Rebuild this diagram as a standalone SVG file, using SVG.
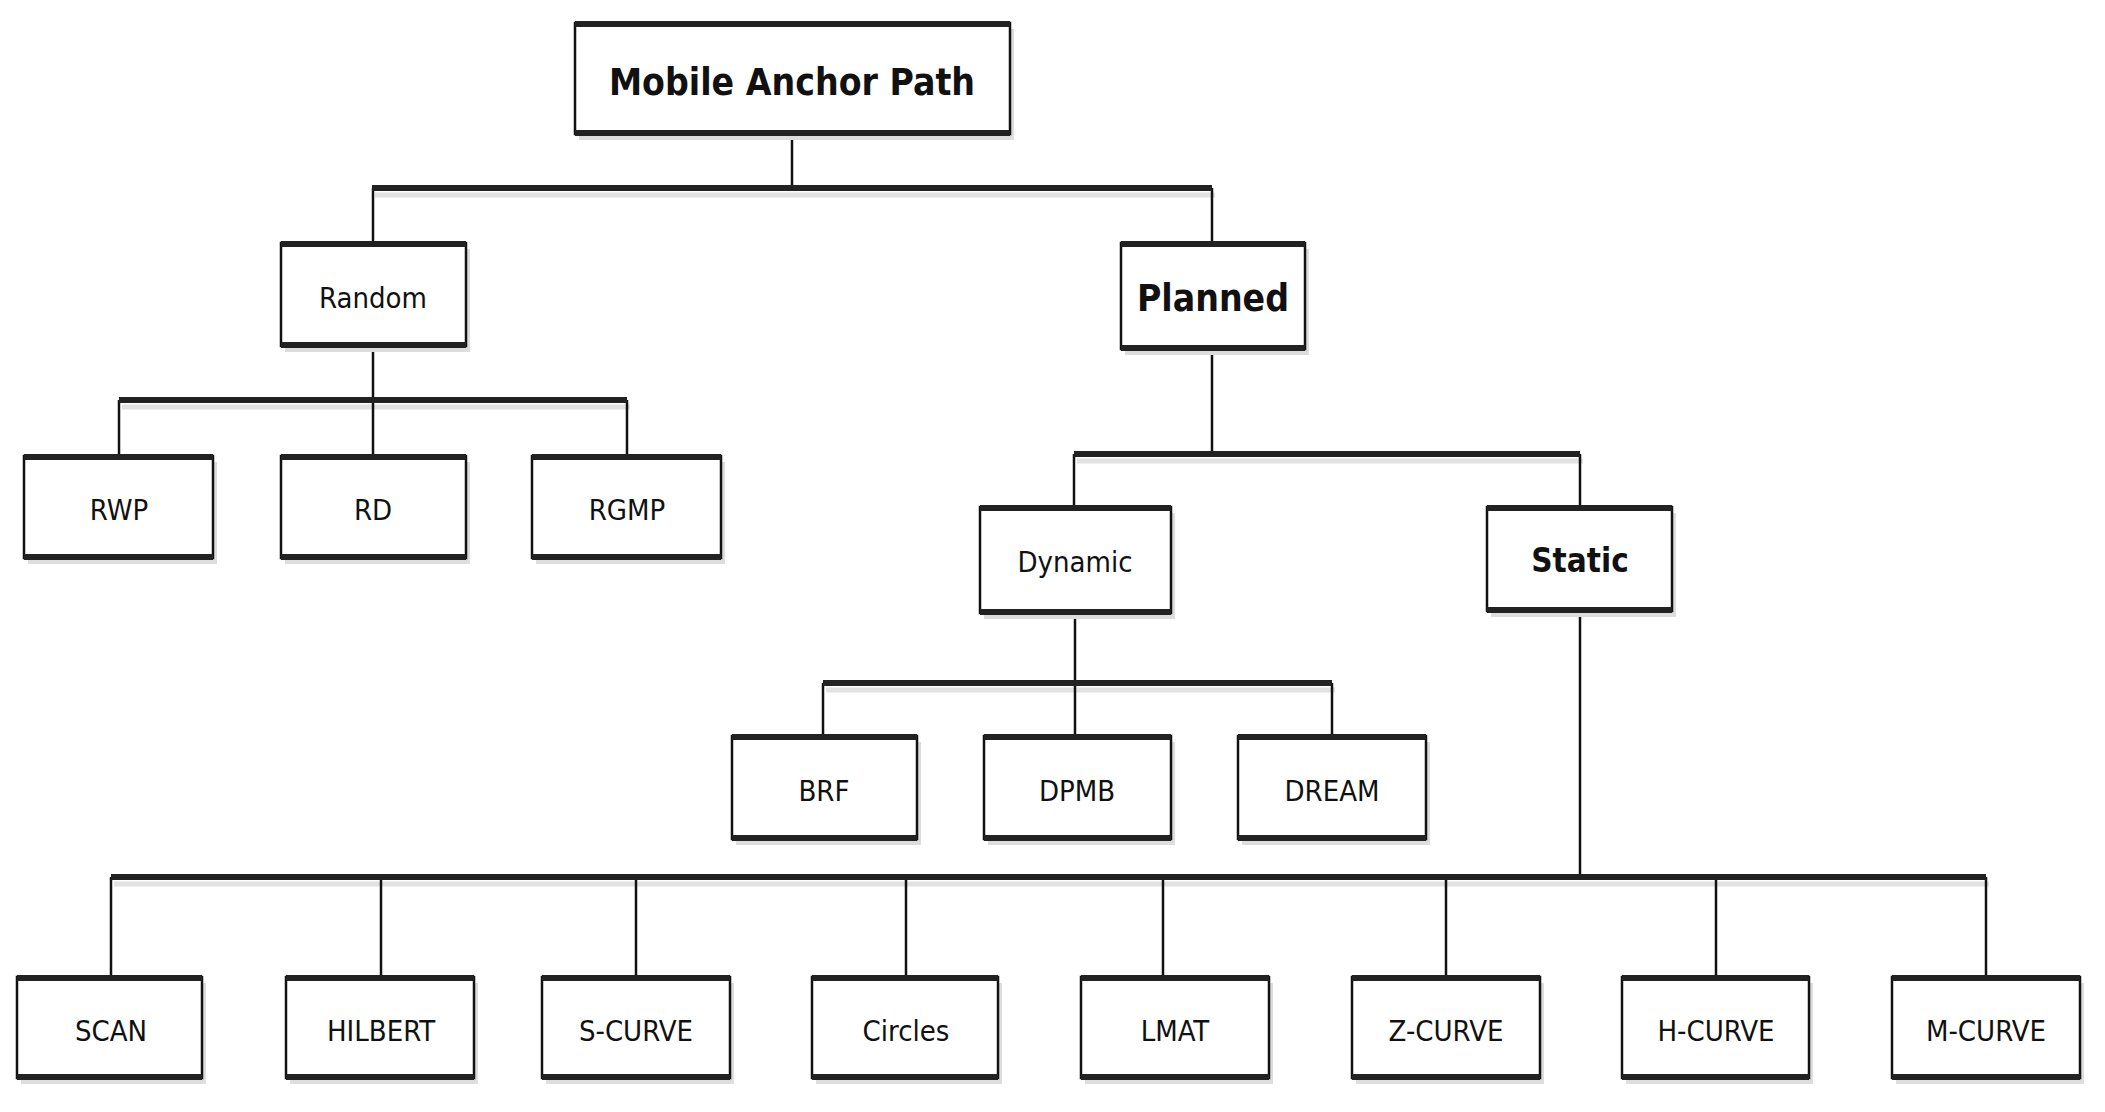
<svg xmlns="http://www.w3.org/2000/svg" width="2105" height="1112" viewBox="0 0 2105 1112">
<style>
.b{fill:#fff;stroke:#111;stroke-width:2.5}
.s{fill:#ddd}
.tb{stroke:#222;stroke-width:6}
.t{font-family:"DejaVu Sans Condensed","DejaVu Sans",sans-serif;font-size:29px;fill:#111;text-anchor:middle}
.bd{font-weight:bold;font-size:37px}
.c{fill:none;stroke:#111;stroke-width:2.5}
.bar{fill:none;stroke:#222;stroke-width:6}
.bs{fill:none;stroke:#e2e2e2;stroke-width:5}
</style>
<rect width="2105" height="1112" fill="#fff"/>
<g id="connectors">
<path class="bs" d="M375 195H1215M122 407H630M1077 461H1583M826 690H1335M114 884H1989"/>
<path class="c" d="M792 134V188M373 188V243M1212 188V243M373 346V400M119 400V456M373 400V456M627 400V456M1212 349V454M1074 454V507M1580 454V507M1075 613V683M823 683V736M1075 683V736M1332 683V736M1580 611V877M111 877V977M381 877V977M636 877V977M906 877V977M1163 877V977M1446 877V977M1716 877V977M1986 877V977"/>
<path class="bar" d="M372 188H1212M119 400H627M1074 454H1580M823 683H1332M111 877H1986"/>
</g>
<defs>
<g id="box185"><rect class="s" x="4" y="6" width="185" height="103"/></g>
</defs>
<g id="n-root"><rect class="s" x="579" y="29" width="435" height="111"/><rect class="b" x="575" y="23" width="435" height="111"/><path class="tb" d="M575 24H1010M575 133H1010"/><text class="t bd" x="792" y="95">Mobile Anchor Path</text></g>
<g id="n-random"><rect class="s" x="285" y="249" width="185" height="103"/><rect class="b" x="281" y="243" width="185" height="103"/><path class="tb" d="M281 244H466M281 345H466"/><text class="t" x="373" y="308">Random</text></g>
<g id="n-planned"><rect class="s" x="1125" y="249" width="184" height="106"/><rect class="b" x="1121" y="243" width="184" height="106"/><path class="tb" d="M1121 244H1305M1121 348H1305"/><text class="t bd" x="1213" y="311">Planned</text></g>
<g id="n-rwp"><rect class="s" x="28" y="462" width="189" height="102"/><rect class="b" x="24" y="456" width="189" height="102"/><path class="tb" d="M24 457H213M24 557H213"/><text class="t" x="119" y="520">RWP</text></g>
<g id="n-rd"><rect class="s" x="285" y="462" width="185" height="102"/><rect class="b" x="281" y="456" width="185" height="102"/><path class="tb" d="M281 457H466M281 557H466"/><text class="t" x="373" y="520">RD</text></g>
<g id="n-rgmp"><rect class="s" x="536" y="462" width="189" height="102"/><rect class="b" x="532" y="456" width="189" height="102"/><path class="tb" d="M532 457H721M532 557H721"/><text class="t" x="627" y="520">RGMP</text></g>
<g id="n-dynamic"><rect class="s" x="984" y="513" width="191" height="106"/><rect class="b" x="980" y="507" width="191" height="106"/><path class="tb" d="M980 508H1171M980 612H1171"/><text class="t" x="1075" y="572">Dynamic</text></g>
<g id="n-static"><rect class="s" x="1491" y="513" width="185" height="104"/><rect class="b" x="1487" y="507" width="185" height="104"/><path class="tb" d="M1487 508H1672M1487 610H1672"/><text class="t bd" x="1580" y="572" style="font-size:33px">Static</text></g>
<g id="n-brf"><rect class="s" x="736" y="742" width="185" height="103"/><rect class="b" x="732" y="736" width="185" height="103"/><path class="tb" d="M732 737H917M732 838H917"/><text class="t" x="824" y="801">BRF</text></g>
<g id="n-dpmb"><rect class="s" x="988" y="742" width="187" height="103"/><rect class="b" x="984" y="736" width="187" height="103"/><path class="tb" d="M984 737H1171M984 838H1171"/><text class="t" x="1077" y="801">DPMB</text></g>
<g id="n-dream"><rect class="s" x="1242" y="742" width="188" height="103"/><rect class="b" x="1238" y="736" width="188" height="103"/><path class="tb" d="M1238 737H1426M1238 838H1426"/><text class="t" x="1332" y="801">DREAM</text></g>
<g id="n-scan"><rect class="s" x="21" y="983" width="185" height="101"/><rect class="b" x="17" y="977" width="185" height="101"/><path class="tb" d="M17 978H202M17 1077H202"/><text class="t" x="111" y="1041">SCAN</text></g>
<g id="n-hilbert"><rect class="s" x="290" y="983" width="188" height="101"/><rect class="b" x="286" y="977" width="188" height="101"/><path class="tb" d="M286 978H474M286 1077H474"/><text class="t" x="381" y="1041">HILBERT</text></g>
<g id="n-scurve"><rect class="s" x="546" y="983" width="188" height="101"/><rect class="b" x="542" y="977" width="188" height="101"/><path class="tb" d="M542 978H730M542 1077H730"/><text class="t" x="636" y="1041">S-CURVE</text></g>
<g id="n-circles"><rect class="s" x="816" y="983" width="186" height="101"/><rect class="b" x="812" y="977" width="186" height="101"/><path class="tb" d="M812 978H998M812 1077H998"/><text class="t" x="906" y="1041">Circles</text></g>
<g id="n-lmat"><rect class="s" x="1085" y="983" width="188" height="101"/><rect class="b" x="1081" y="977" width="188" height="101"/><path class="tb" d="M1081 978H1269M1081 1077H1269"/><text class="t" x="1175" y="1041">LMAT</text></g>
<g id="n-zcurve"><rect class="s" x="1356" y="983" width="188" height="101"/><rect class="b" x="1352" y="977" width="188" height="101"/><path class="tb" d="M1352 978H1540M1352 1077H1540"/><text class="t" x="1446" y="1041">Z-CURVE</text></g>
<g id="n-hcurve"><rect class="s" x="1626" y="983" width="187" height="101"/><rect class="b" x="1622" y="977" width="187" height="101"/><path class="tb" d="M1622 978H1809M1622 1077H1809"/><text class="t" x="1716" y="1041">H-CURVE</text></g>
<g id="n-mcurve"><rect class="s" x="1896" y="983" width="188" height="101"/><rect class="b" x="1892" y="977" width="188" height="101"/><path class="tb" d="M1892 978H2080M1892 1077H2080"/><text class="t" x="1986" y="1041">M-CURVE</text></g>
</svg>
